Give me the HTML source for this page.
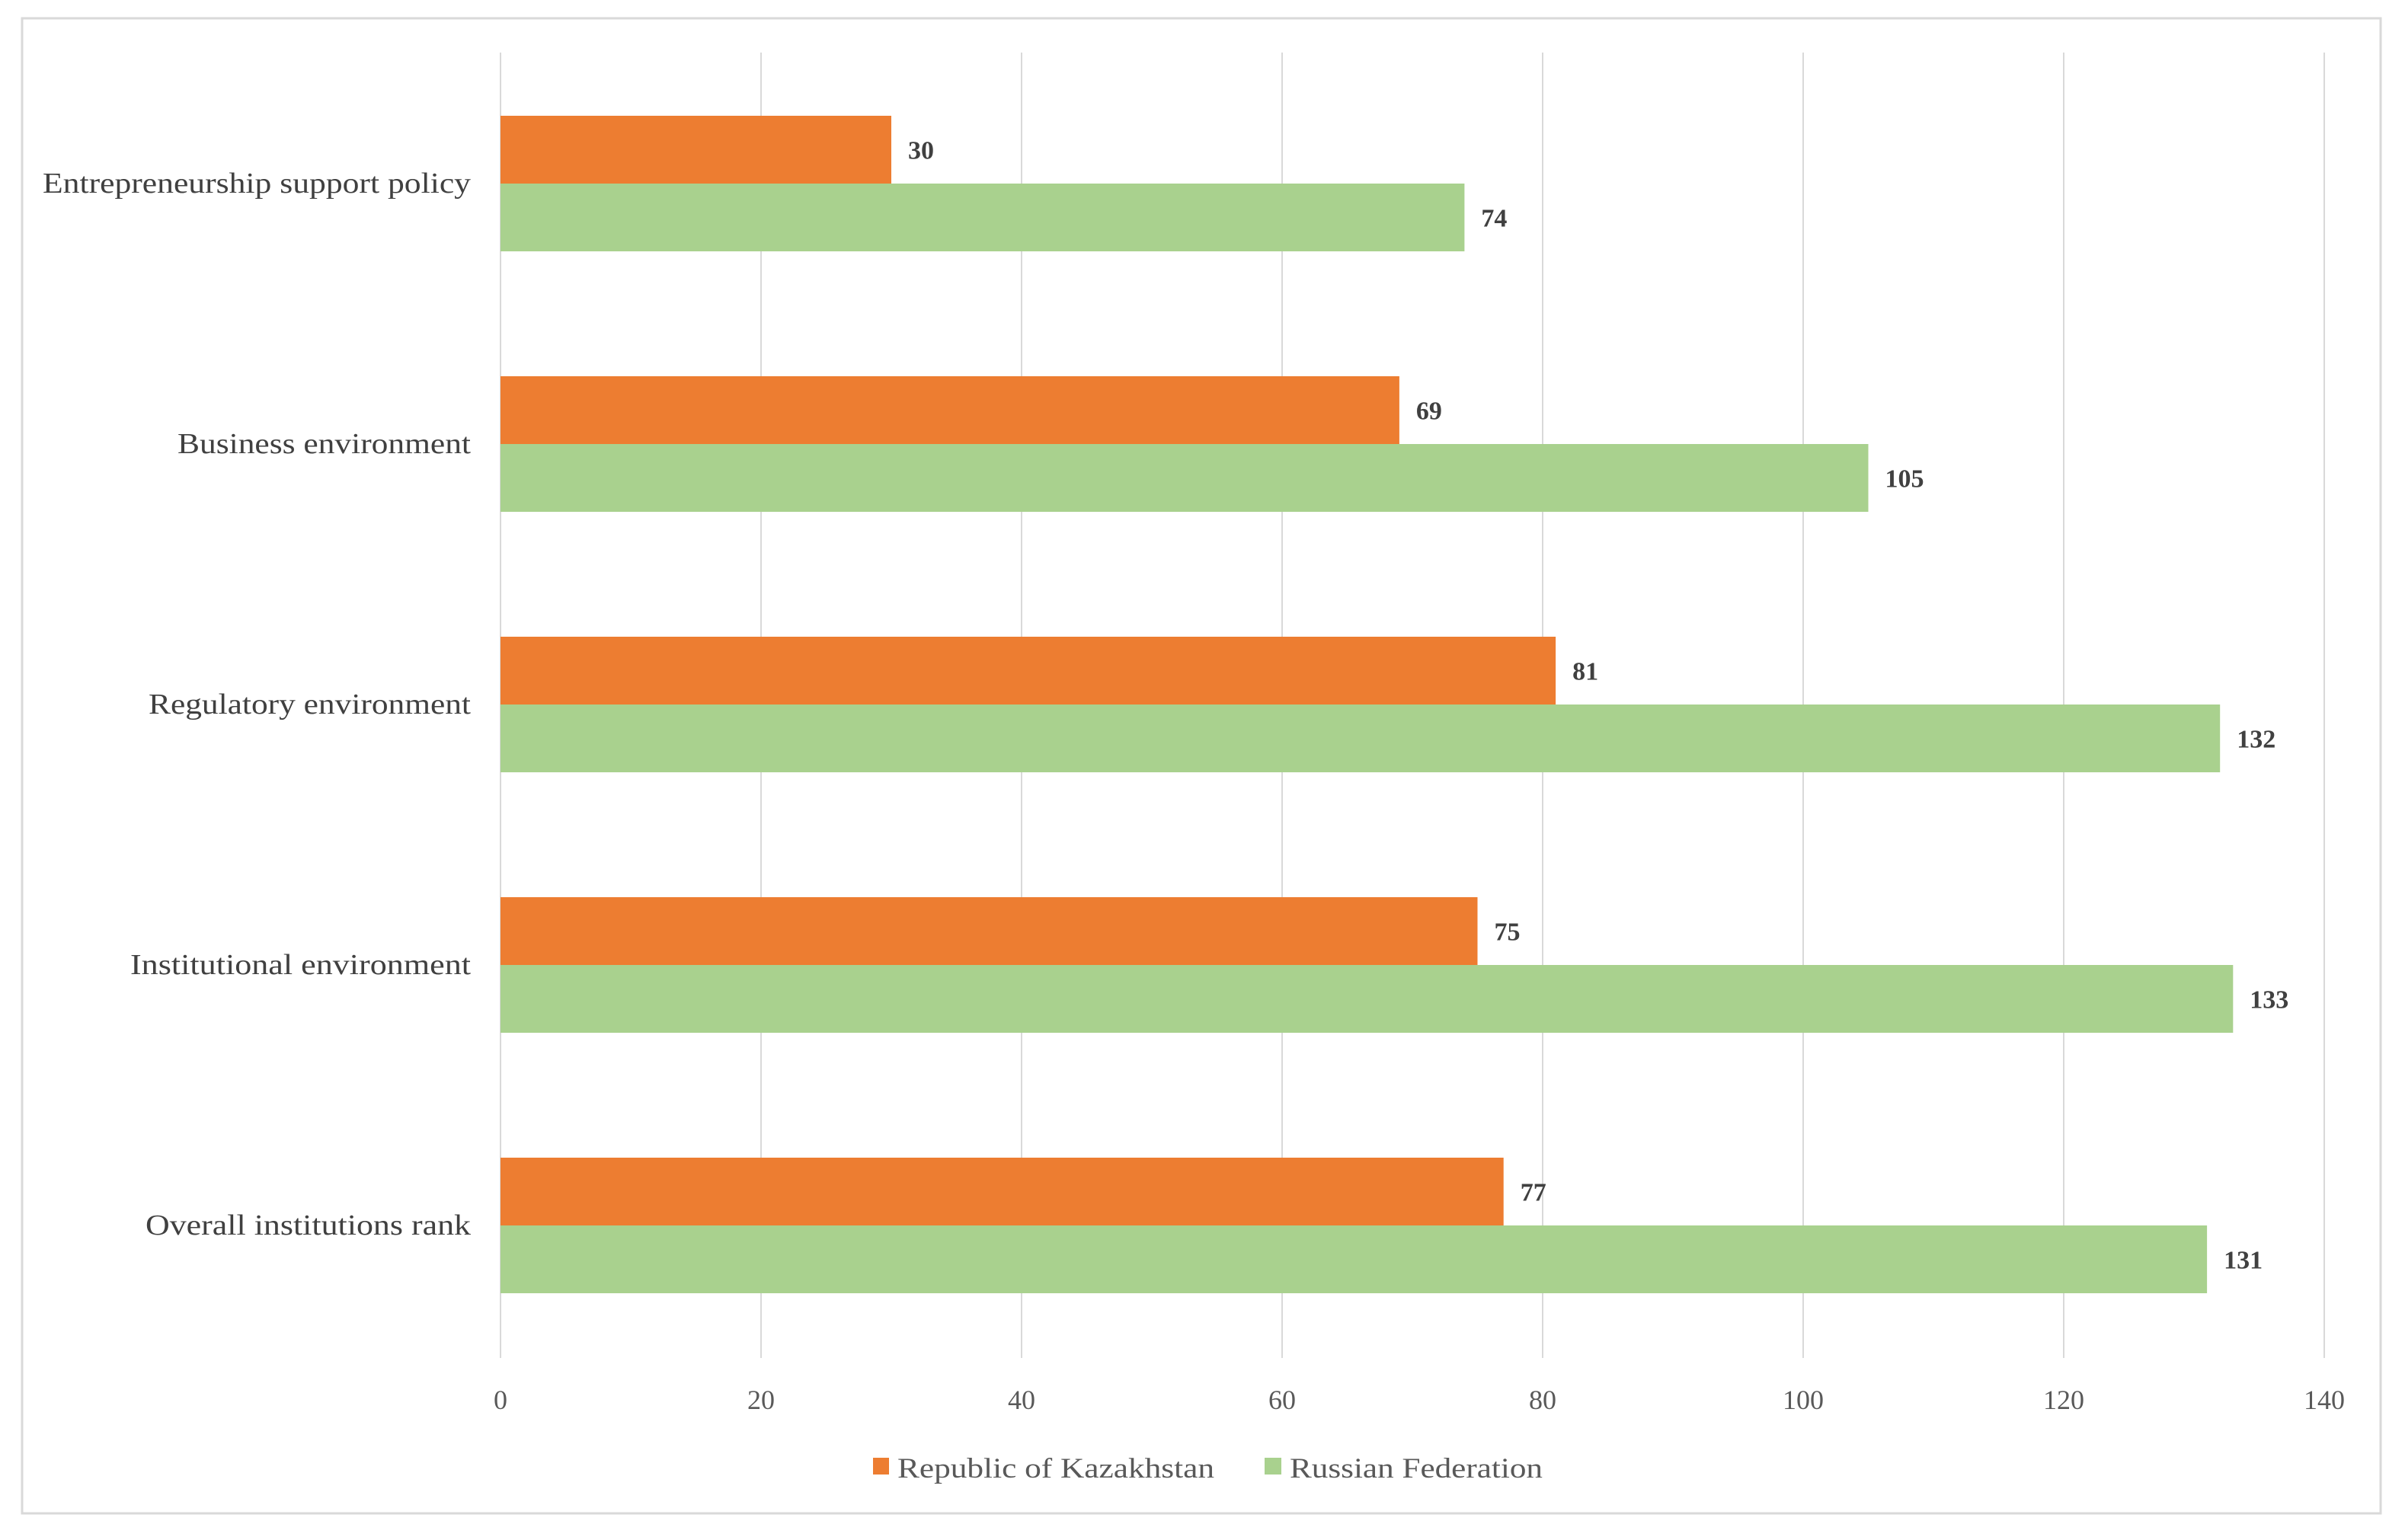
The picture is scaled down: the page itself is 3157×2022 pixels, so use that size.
<!DOCTYPE html>
<html><head><meta charset="utf-8"><style>
html,body{margin:0;padding:0;background:#fff;}
svg{display:block;font-family:"Liberation Serif",serif;}
</style></head><body>
<svg id="chart" width="3157" height="2022" viewBox="0 0 3157 2022">
<rect x="29" y="24" width="3096" height="1963" fill="#fff" stroke="#d9d9d9" stroke-width="3"/>
<g id="grid"></g>
<g id="bars"></g>
<g id="labels"></g>
<g id="ticks"></g>
<g>
<rect x="1146" y="1914" width="21" height="22" fill="#ed7d31"/>
<text x="1178" y="1940" font-size="37" fill="#595959" textLength="416" lengthAdjust="spacingAndGlyphs">Republic of Kazakhstan</text>
<rect x="1660" y="1914" width="22" height="22" fill="#a9d18e"/>
<text x="1693" y="1940" font-size="37" fill="#595959" textLength="332" lengthAdjust="spacingAndGlyphs">Russian Federation</text>
</g>
</svg>
<script>
const categories = ["Entrepreneurship support policy","Business environment","Regulatory environment","Institutional environment","Overall institutions rank"];
const kazakhstan = [30,69,81,75,77];
const russia = [74,105,132,133,131];
const ticks = [0,20,40,60,80,100,120,140];
const labelWidths = [562,385,423,447,427];

const NS="http://www.w3.org/2000/svg";
const x0=657, pxPerUnit=17.1, top0=152, catStep=342, barH=89;
const X=v=>x0+v*pxPerUnit;
function mk(tag,attrs,parent){const e=document.createElementNS(NS,tag);for(const k in attrs)e.setAttribute(k,attrs[k]);parent.appendChild(e);return e;}
const grid=document.getElementById('grid'),bars=document.getElementById('bars'),labels=document.getElementById('labels'),tk=document.getElementById('ticks');
ticks.forEach(t=>{
  const l=mk('line',{x1:X(t),x2:X(t),y1:69,y2:1783,stroke:'#d9d9d9','stroke-width':2},grid);
  
  
  const tx=mk('text',{x:X(t),y:1850,'font-size':36,fill:'#595959','text-anchor':'middle'},tk);
  tx.textContent=t;
  
  
});
categories.forEach((c,i)=>{
  const y=top0+i*catStep;
  const b1=mk('rect',{x:x0,y:y,width:X(kazakhstan[i])-x0,height:barH,fill:'#ed7d31'},bars);
  
  
  const b2=mk('rect',{x:x0,y:y+barH,width:X(russia[i])-x0,height:barH,fill:'#a9d18e'},bars);
  
  
  const v1=mk('text',{x:X(kazakhstan[i])+22,y:y+barH/2+12,'font-size':34,'font-weight':'bold',fill:'#404040'},bars);
  v1.textContent=kazakhstan[i];
  
  
  const v2=mk('text',{x:X(russia[i])+22,y:y+barH*1.5+12,'font-size':34,'font-weight':'bold',fill:'#404040'},bars);
  v2.textContent=russia[i];
  
  
  const lb=mk('text',{x:618-labelWidths[i],y:y+barH+12,'font-size':38,fill:'#404040',textLength:labelWidths[i],lengthAdjust:'spacingAndGlyphs'},labels);
  lb.textContent=c;
  
  
});
</script>
</body></html>
